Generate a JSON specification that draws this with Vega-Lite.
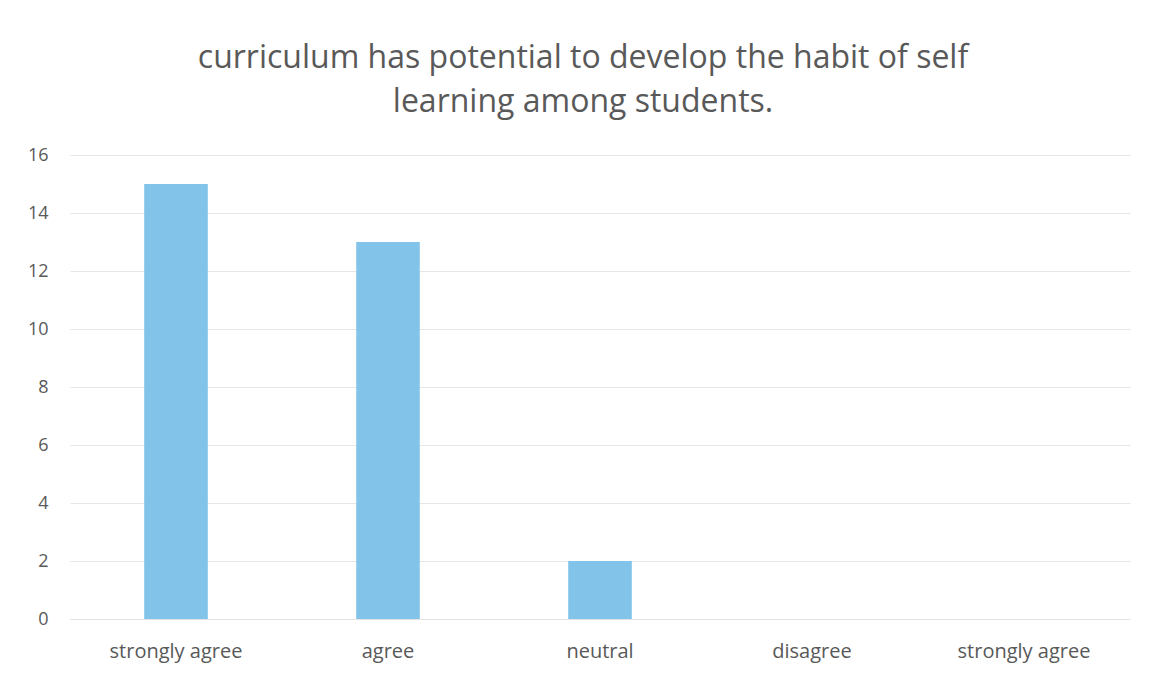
{
  "$schema": "https://vega.github.io/schema/vega-lite/v6.json",
  "width": 1060,
  "height": 464,
  "autosize": {"type": "none"},
  "padding": {"left": 70, "top": 155, "right": 26, "bottom": 58},
  "background": "white",
  "title": {
    "text": ["curriculum has potential to develop the habit of self", "learning among students."],
    "font": "Open Sans",
    "fontSize": 32,
    "fontWeight": "normal",
    "color": "#595959",
    "lineHeight": 44,
    "anchor": "middle",
    "dx": -17,
    "offset": 27
  },
  "data": {
    "values": [
      {"response": "strongly agree", "count": 15},
      {"response": "agree", "count": 13},
      {"response": "neutral", "count": 2},
      {"response": "disagree", "count": 0},
      {"response": "strongly agree ", "count": 0}
    ]
  },
  "mark": {"type": "bar", "color": "#82c3ea"},
  "encoding": {
    "x": {
      "field": "response",
      "type": "nominal",
      "sort": null,
      "scale": {"paddingInner": 0.7, "paddingOuter": 0.35},
      "axis": {
        "title": null,
        "labelAngle": 0,
        "labelFont": "Open Sans",
        "labelFontSize": 20,
        "labelColor": "#595959",
        "labelPadding": 22,
        "ticks": false,
        "domain": true,
        "domainColor": "#e3e3e3"
      }
    },
    "y": {
      "field": "count",
      "type": "quantitative",
      "scale": {"domain": [0, 16]},
      "axis": {
        "title": null,
        "values": [0, 2, 4, 6, 8, 10, 12, 14, 16],
        "labelFont": "Open Sans",
        "labelFontSize": 18,
        "labelColor": "#595959",
        "labelPadding": 22,
        "ticks": false,
        "domain": false,
        "gridColor": "#e6e6e6"
      }
    }
  },
  "config": {"view": {"stroke": null}}
}
